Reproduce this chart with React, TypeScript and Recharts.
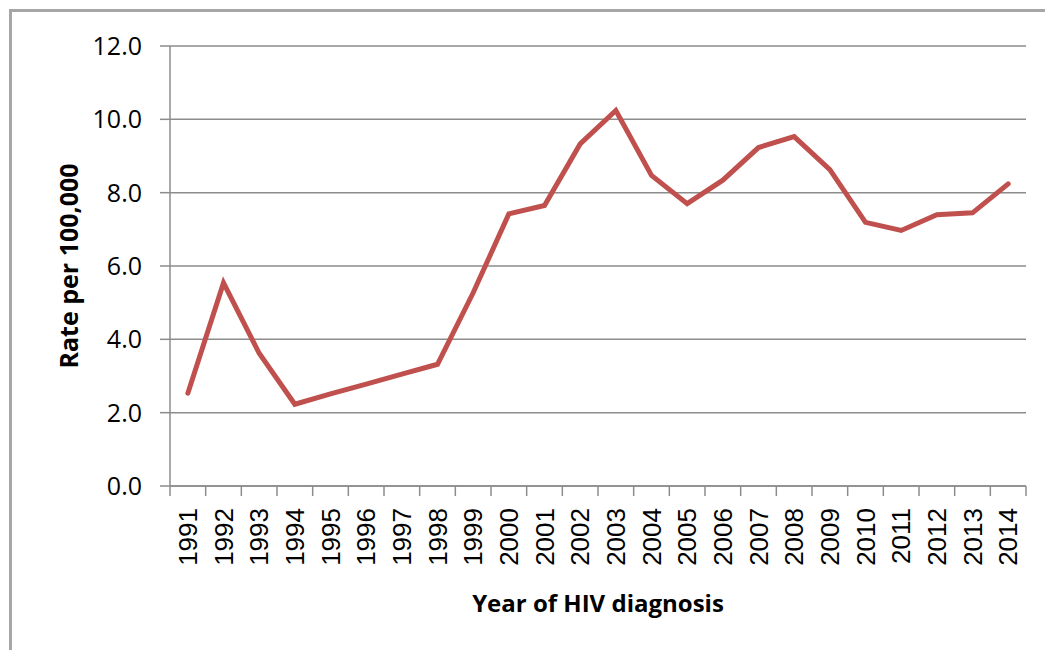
import { CartesianGrid, Line, LineChart, XAxis, YAxis } from "recharts";

const YEARS = [
  "1991", "1992", "1993", "1994", "1995", "1996", "1997", "1998", "1999", "2000", "2001", "2002",
  "2003", "2004", "2005", "2006", "2007", "2008", "2009", "2010", "2011", "2012", "2013", "2014",
];
const RATES = [
  2.53, 5.54, 3.62, 2.23, 2.51, 2.78, 3.05, 3.32, 5.27, 7.42, 7.65, 9.33,
  10.24, 8.47, 7.7, 8.34, 9.23, 9.53, 8.63, 7.19, 6.97, 7.4, 7.45, 8.24,
];
const Y_TICKS = [0, 2, 4, 6, 8, 10, 12];

const data = YEARS.map((year, i) => ({ year, rate: RATES[i] }));

const WIDTH = 1045;
const HEIGHT = 650;
const MARGIN = { top: 46, right: 19, left: 10, bottom: 29 };
const Y_AXIS_W = 160;
const X_AXIS_H = 135;
const PLOT_W = WIDTH - MARGIN.left - MARGIN.right - Y_AXIS_W;
const HALF_BAND = PLOT_W / YEARS.length / 2;

const AXIS_COLOR = "#8c8c8c";
const LINE_COLOR = "#C0504D";
const LABEL_FONT = '"Open Sans", sans-serif';

// Excel puts the category tick marks between years, not under them
function YearTick({ x, y, payload, index }: any) {
  const axisY = y - 10;
  const last = index === YEARS.length - 1;
  return (
    <g>
      <line x1={x - HALF_BAND} x2={x - HALF_BAND} y1={axisY} y2={axisY + 10} stroke={AXIS_COLOR} strokeWidth={1.5} />
      {last && (
        <line x1={x + HALF_BAND} x2={x + HALF_BAND} y1={axisY} y2={axisY + 10} stroke={AXIS_COLOR} strokeWidth={1.5} />
      )}
      <g transform={`translate(${x},${axisY + 22})`}>
        <text
          transform="rotate(-90)"
          textAnchor="end"
          dy="0.35em"
          fontSize={26}
          fontFamily='"Liberation Sans", Arial, sans-serif'
          fill="#000"
        >
          {payload.value}
        </text>
      </g>
    </g>
  );
}

export default function App() {
  return (
    <div
      style={{
        position: "absolute",
        left: 0,
        top: 0,
        width: WIDTH,
        height: HEIGHT,
        background: "#fff",
        overflow: "hidden",
      }}
    >
      <div
        style={{
          position: "absolute",
          left: 9,
          top: 9,
          width: WIDTH,
          height: HEIGHT,
          borderLeft: "3px solid #a6a6a6",
          borderTop: "3px solid #a6a6a6",
        }}
      />
      <LineChart
        width={WIDTH}
        height={HEIGHT}
        data={data}
        margin={MARGIN}
        style={{ position: "absolute", left: 0, top: 0 }}
      >
        <CartesianGrid vertical={false} stroke={AXIS_COLOR} strokeWidth={1.5} />
        <XAxis
          dataKey="year"
          interval={0}
          height={X_AXIS_H}
          padding={{ left: HALF_BAND, right: HALF_BAND }}
          tickSize={10}
          tickMargin={0}
          tickLine={false}
          axisLine={{ stroke: AXIS_COLOR, strokeWidth: 1.5 }}
          tick={<YearTick />}
          label={{
            content: ({ viewBox }: any) => (
              <text
                x={viewBox.x + viewBox.width / 2}
                y={612}
                textAnchor="middle"
                fontSize={24}
                fontWeight="bold"
                fontFamily={LABEL_FONT}
                fill="#000"
              >
                Year of HIV diagnosis
              </text>
            ),
          }}
        />
        <YAxis
          width={Y_AXIS_W}
          domain={[0, 12]}
          ticks={Y_TICKS}
          interval={0}
          tickSize={10}
          tickMargin={18}
          tickFormatter={(v: number) => v.toFixed(1)}
          tick={{ fontSize: 25, fill: "#000", fontFamily: LABEL_FONT }}
          tickLine={{ stroke: AXIS_COLOR, strokeWidth: 1.5 }}
          axisLine={{ stroke: AXIS_COLOR, strokeWidth: 1.5 }}
          label={{
            content: ({ viewBox }: any) => {
              const cx = 68;
              const cy = viewBox.y + viewBox.height / 2;
              return (
                <text
                  x={cx}
                  y={cy}
                  transform={`rotate(-90, ${cx}, ${cy})`}
                  textAnchor="middle"
                  dominantBaseline="central"
                  fontSize={25}
                  fontWeight="bold"
                  fontFamily={LABEL_FONT}
                  fill="#000"
                >
                  Rate per 100,000
                </text>
              );
            },
          }}
        />
        <Line
          type="linear"
          dataKey="rate"
          stroke={LINE_COLOR}
          strokeWidth={5}
          strokeLinecap="round"
          dot={false}
          activeDot={false}
          isAnimationActive={false}
        />
      </LineChart>
    </div>
  );
}
